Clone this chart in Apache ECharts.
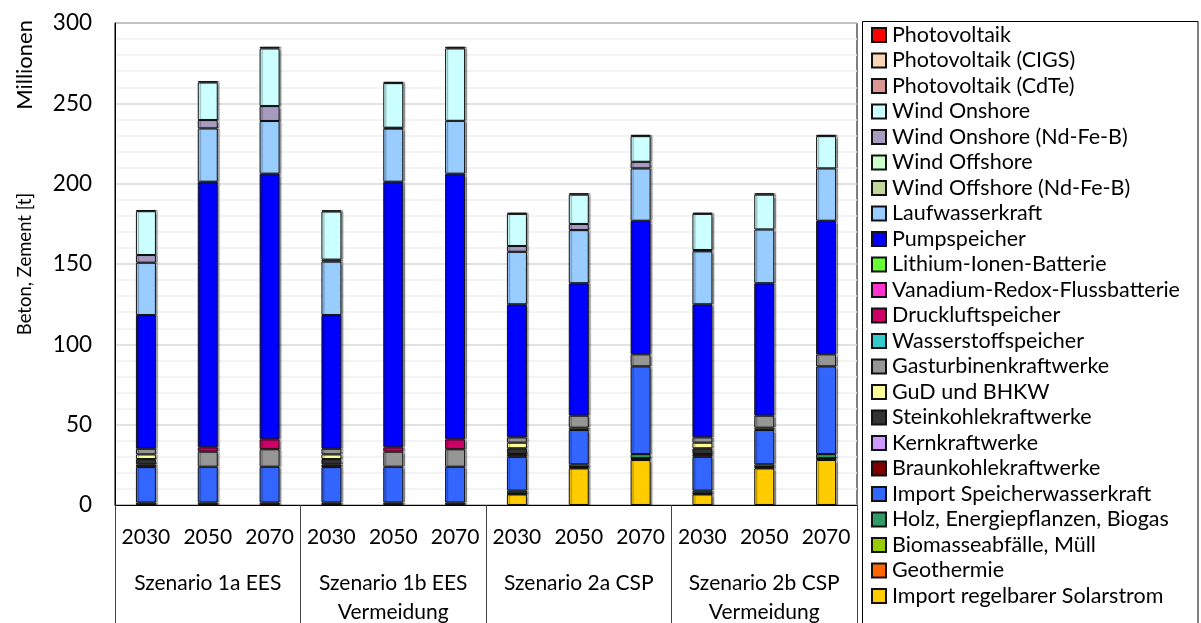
<!DOCTYPE html>
<html>
<head>
<meta charset="utf-8">
<script src="https://cdn.jsdelivr.net/npm/echarts@6/dist/echarts.min.js"></script>
<style>
  html, body { margin: 0; padding: 0; background: #fff; }
  #chart { width: 1201px; height: 623px; }
</style>
</head>
<body>
<div id="chart"></div>
<script>
// Jahre je Szenario (untere Achse) und Szenario-Gruppen
const years = ['2030', '2050', '2070', '2030', '2050', '2070', '2030', '2050', '2070', '2030', '2050', '2070'];
const scenarios = ['Szenario 1a EES', 'Szenario 1b EES\nVermeidung', 'Szenario 2a CSP', 'Szenario 2b CSP\nVermeidung'];
const yTicks = [0, 50, 100, 150, 200, 250, 300];

// Beton und Zement in Millionen Tonnen, je Technologie (Reihenfolge von unten nach oben)
const importSolar      = [0, 0, 0, 0, 0, 0, 6.6, 22.8, 28.0, 6.6, 22.8, 28.0];
const geothermie       = [0, 0, 0, 0, 0, 0, 0.4, 0.5, 0.8, 0.4, 0.5, 0.8];
const biomasse         = [0.3, 0.3, 0.3, 0.3, 0.3, 0.3, 0.3, 0.4, 0.3, 0.3, 0.4, 0.3];
const holz             = [1.2, 1.2, 1.2, 1.2, 1.2, 1.2, 1.6, 1.6, 2.6, 1.6, 1.6, 2.6];
const importSpeicher   = [22.1, 22.3, 22.3, 22.1, 22.3, 22.3, 21.1, 21.4, 54.6, 21.1, 21.4, 54.6];
const braunkohle       = [1.7, 0, 0, 1.7, 0, 0, 1.7, 0, 0, 1.7, 0, 0];
const kern             = [0, 0, 0, 0, 0, 0, 0, 0, 0, 0, 0, 0];
const steinkohle       = [3.3, 0, 0, 3.3, 0, 0, 3.6, 0, 0, 3.6, 0, 0];
const gud              = [2.9, 0, 0, 2.9, 0, 0, 3.5, 1.4, 0, 3.5, 1.4, 0];
const gasturbine       = [3.5, 9.4, 10.9, 3.5, 9.4, 10.9, 3.3, 7.5, 7.5, 3.3, 7.5, 7.5];
const wasserstoff      = [0, 0, 0, 0, 0, 0, 0, 0, 0, 0, 0, 0];
const druckluft        = [0, 2.7, 6.2, 0, 2.7, 6.2, 0, 0, 0, 0, 0, 0];
const vanadium         = [0, 0, 0, 0, 0, 0, 0, 0, 0, 0, 0, 0];
const lithium          = [0, 0, 0, 0, 0, 0, 0, 0, 0, 0, 0, 0];
const pumpspeicher     = [83.2, 165.3, 165.3, 83.2, 165.3, 165.3, 82.8, 82.4, 83.1, 82.8, 82.4, 83.1];
const laufwasser       = [32.6, 33.2, 32.8, 33.3, 33.1, 32.9, 32.7, 33.1, 32.6, 33.0, 33.5, 32.6];
const windOffNd        = [0, 0, 0, 0, 0, 0, 0, 0, 0, 0, 0, 0];
const windOff          = [0, 0, 0, 0, 0, 0, 0, 0, 0, 0, 0, 0];
const windOnNd         = [4.8, 5.2, 9.3, 1.2, 0.5, 0, 3.6, 3.8, 4.1, 0.8, 0, 0];
const windOn           = [27.3, 23.4, 35.9, 30.0, 27.8, 45.1, 20.0, 18.3, 16.0, 22.5, 21.7, 20.1];
const pvCdTe           = [0, 0, 0, 0, 0, 0, 0, 0, 0, 0, 0, 0];
const pvCigs           = [0, 0, 0, 0, 0, 0, 0, 0, 0, 0, 0, 0];
const pv               = [0.7, 0.8, 1.0, 0.7, 0.8, 1.0, 0.7, 0.8, 0.8, 0.7, 0.8, 0.8];

// Stapelreihenfolge: erster Eintrag liegt unten
const stackDefs = [
  ['Import regelbarer Solarstrom', importSolar, '#FFCC00'],
  ['Geothermie', geothermie, '#FF6600'],
  ['Biomasseabfälle, Müll', biomasse, '#99CC00'],
  ['Holz, Energiepflanzen, Biogas', holz, '#339966'],
  ['Import Speicherwasserkraft', importSpeicher, '#3366FF'],
  ['Braunkohlekraftwerke', braunkohle, '#800000'],
  ['Kernkraftwerke', kern, '#CC99FF'],
  ['Steinkohlekraftwerke', steinkohle, '#333333'],
  ['GuD und BHKW', gud, '#FFFF99'],
  ['Gasturbinenkraftwerke', gasturbine, '#969696'],
  ['Wasserstoffspeicher', wasserstoff, '#33CCCC'],
  ['Druckluftspeicher', druckluft, '#CC0066'],
  ['Vanadium-Redox-Flussbatterie', vanadium, '#FF33CC'],
  ['Lithium-Ionen-Batterie', lithium, '#66FF33'],
  ['Pumpspeicher', pumpspeicher, '#0000FF'],
  ['Laufwasserkraft', laufwasser, '#99CCFF'],
  ['Wind Offshore (Nd-Fe-B)', windOffNd, '#C3D69B'],
  ['Wind Offshore', windOff, '#CCFFCC'],
  ['Wind Onshore (Nd-Fe-B)', windOnNd, '#A69CC2'],
  ['Wind Onshore', windOn, '#CCFFFF'],
  ['Photovoltaik (CdTe)', pvCdTe, '#D99694'],
  ['Photovoltaik (CIGS)', pvCigs, '#FCD5B4'],
  ['Photovoltaik', pv, '#FF0000']
];

const FONT = 'Lato';

const series = stackDefs.map(([name, values, color]) => ({
  name: name,
  type: 'bar',
  stack: 'gesamt',
  barWidth: 20,
  xAxisIndex: 0,
  data: values.map(v => (v === 0 ? '-' : v)),
  itemStyle: {
    color: color,
    borderColor: '#111',
    borderWidth: 1,
    shadowColor: 'rgba(0,0,0,0.35)',
    shadowOffsetX: 2,
    shadowBlur: 1
  },
  emphasis: { disabled: true }
}));

const chart = echarts.init(document.getElementById('chart'), null, { renderer: 'canvas' });

chart.setOption({
  backgroundColor: '#fff',
  animation: false,
  textStyle: { fontFamily: FONT },
  grid: {
    left: 115, right: 344, top: 23, bottom: 118,
    show: true, borderColor: '#000', borderWidth: 1,
    containLabel: false,
    outerBoundsMode: 'none'
  },
  legend: {
    orient: 'vertical',
    left: 871, top: 24,
    height: 599,
    padding: 0,
    itemGap: 3.5,
    itemWidth: 14, itemHeight: 14,
    icon: 'rect',
    data: stackDefs.map(d => d[0]).reverse(),
    textStyle: { fontFamily: FONT, fontSize: 21.5, color: '#000', padding: [0, 0, 0, 1] },
    selectedMode: false
  },
  xAxis: [
    {
      type: 'category',
      data: years,
      position: 'bottom',
      axisLine: { show: true, lineStyle: { color: '#000', width: 1 } },
      axisTick: { show: false },
      axisLabel: { fontFamily: FONT, fontSize: 21, color: '#000', margin: 22, interval: 0 }
    },
    {
      type: 'category',
      data: scenarios,
      position: 'bottom',
      axisLine: { show: false },
      axisTick: { show: true, length: 118, interval: 0, alignWithLabel: false, lineStyle: { color: '#444', width: 1 } },
      axisLabel: { fontFamily: FONT, fontSize: 21, color: '#000', margin: 64, lineHeight: 28.5, interval: 0 }
    }
  ],
  yAxis: {
    type: 'value',
    min: yTicks[0],
    max: yTicks[yTicks.length - 1],
    interval: 50,
    name: 'Beton, Zement [t]',
    nameLocation: 'middle',
    nameGap: 80,
    nameTextStyle: { fontFamily: FONT, fontSize: 18.5, color: '#000' },
    axisLine: { show: true, lineStyle: { color: '#000' } },
    axisTick: { show: false },
    axisLabel: { fontFamily: FONT, fontSize: 22.5, color: '#000', margin: 23 },
    splitLine: { show: true, lineStyle: { color: '#d9d9d9', width: 1.5 } },
    minorTick: { show: false, splitNumber: 5 },
    minorSplitLine: { show: true, lineStyle: { color: '#f0f0f0', width: 1.5 } }
  },
  graphic: [
    {
      type: 'text',
      left: 14, top: 20,
      rotation: Math.PI / 2,
      style: { text: 'Millionen', font: '22px ' + FONT, fill: '#000' }
    },
    {
      type: 'rect',
      shape: { x: 862.5, y: 21.5, width: 335.5, height: 620 },
      style: { fill: 'none', stroke: '#000', lineWidth: 1 },
      silent: true
    }
  ],
  series: series
});
</script>
</body>
</html>
